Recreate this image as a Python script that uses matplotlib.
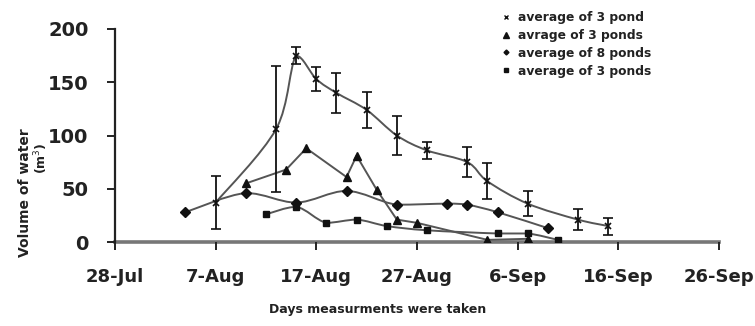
import datetime as dt
import numpy as np
import matplotlib
matplotlib.use("Agg")
import matplotlib.pyplot as plt
import matplotlib.dates as mdates
from matplotlib.path import Path
from matplotlib.patches import PathPatch
from matplotlib.ticker import FuncFormatter
from matplotlib.lines import Line2D

YEAR = 2005

# --- data -----------------------------------------------------------------
pond3_dates = ["08-07", "08-13", "08-15", "08-17", "08-19", "08-22", "08-25",
               "08-28", "09-01", "09-03", "09-07", "09-12", "09-15"]
pond3_vol = [37, 106, 175, 153, 140, 124, 100, 86, 75, 57, 36, 21, 15]
pond3_err = [25, 59, 8, 11, 19, 17, 18, 8, 14, 17, 12, 10, 8]

tri_dates = ["08-10", "08-14", "08-16", "08-20", "08-21", "08-23", "08-25",
             "08-27", "09-03", "09-07"]
tri_vol = [55, 68, 88, 61, 81, 49, 21, 18, 2, 3]

dia_dates = ["08-04", "08-10", "08-15", "08-20", "08-25", "08-30", "09-01",
             "09-04", "09-09"]
dia_vol = [28, 46, 37, 48, 35, 36, 35, 28, 13]

sq_dates = ["08-12", "08-15", "08-18", "08-21", "08-24", "08-28", "09-04",
            "09-07", "09-10"]
sq_vol = [26, 33, 18, 21, 15, 11, 8, 8, 2]

legend_labels = ["average of 3 pond", "avrage of 3 ponds",
                 "average of 8 ponds", "average of 3 ponds"]
tick_dates = ["07-28", "08-07", "08-17", "08-27", "09-06", "09-16", "09-26"]


def to_num(md):
    return np.array([mdates.date2num(dt.datetime(YEAR, int(s[:2]), int(s[3:])))
                     for s in md])


def smooth_path(xs, ys):
    """Cubic Bezier path through the points, with control points kept
    inside each segment's vertical range to avoid overshoot."""
    pts = np.column_stack([xs, ys]).astype(float)
    n = len(pts)
    verts = [pts[0]]
    codes = [Path.MOVETO]
    for i in range(n - 1):
        p0 = pts[i - 1] if i > 0 else pts[i]
        p1, p2 = pts[i], pts[i + 1]
        p3 = pts[i + 2] if i + 2 < n else pts[i + 1]
        c1 = p1 + (p2 - p0) / 6.0
        c2 = p2 - (p3 - p1) / 6.0
        lo, hi = min(p1[1], p2[1]), max(p1[1], p2[1])
        c1[1] = np.clip(c1[1], lo, hi)
        c2[1] = np.clip(c2[1], lo, hi)
        verts += [c1, c2, p2]
        codes += [Path.CURVE4] * 3
    return Path(verts, codes)


FONT = "DejaVu Sans"
TEXT_C = "#222222"
LINE_C = "#555555"
MARK_C = "#111111"

fig = plt.figure(figsize=(7.55, 3.26), dpi=100)
ax = fig.add_axes([115 / 755, 1 - 242 / 326, (719 - 115) / 755, (242 - 29) / 326])

x1 = to_num(pond3_dates)
x2 = to_num(tri_dates)
x3 = to_num(dia_dates)
x4 = to_num(sq_dates)

# smoothed connecting lines
for xs, ys in [(x1, pond3_vol), (x3, dia_vol), (x4, sq_vol)]:
    ax.add_patch(PathPatch(smooth_path(xs, ys), facecolor="none",
                           edgecolor=LINE_C, lw=1.4, zorder=2))
ax.plot(x2, tri_vol, color=LINE_C, lw=1.4, zorder=2)

# markers
ax.errorbar(x1, pond3_vol, yerr=pond3_err, fmt="x", color=MARK_C, ms=5,
            mew=1.2, ecolor=MARK_C, elinewidth=1.3, capsize=3.8, capthick=1.3,
            zorder=3)
ax.plot(x2, tri_vol, "^", color=MARK_C, ms=5.5, zorder=3)
ax.plot(x3, dia_vol, "D", color=MARK_C, ms=5, zorder=3)
ax.plot(x4, sq_vol, "s", color=MARK_C, ms=5, zorder=3)

# axes
ticks = to_num(tick_dates)
ax.set_xlim(ticks[0], ticks[-1])
ax.set_ylim(0, 200)
ax.set_xticks(ticks)
ax.set_yticks([0, 50, 100, 150, 200])
ax.xaxis.set_major_formatter(FuncFormatter(
    lambda v, p: f"{mdates.num2date(v).day}-{mdates.num2date(v).strftime('%b')}"))

for s in ["top", "right"]:
    ax.spines[s].set_visible(False)
ax.spines["left"].set_color(TEXT_C)
ax.spines["left"].set_linewidth(1.6)
ax.spines["bottom"].set_color("#777777")
ax.spines["bottom"].set_linewidth(2.6)
ax.spines["bottom"].set_zorder(1)

ax.tick_params(axis="y", direction="out", length=6, width=1.4, color=TEXT_C,
               pad=13, labelsize=14, labelcolor=TEXT_C)
ax.tick_params(axis="x", direction="out", length=6, width=1.4, color=TEXT_C,
               pad=13, labelsize=13, labelcolor=TEXT_C)
for lab in ax.get_xticklabels() + ax.get_yticklabels():
    lab.set_fontfamily(FONT)
    lab.set_fontweight("bold")

# axis titles
fig.text(378 / 755, 1 - 310 / 326, "Days measurments were taken",
         ha="center", va="center", fontsize=9, fontweight="bold",
         family=FONT, color=TEXT_C)
fig.text(25 / 755, 1 - 193 / 326, "Volume of water", rotation=90,
         ha="center", va="center", fontsize=10, fontweight="bold",
         family=FONT, color=TEXT_C)
fig.text(41 / 755, 1 - 158 / 326, "(m$^3$)", rotation=90,
         ha="center", va="center", fontsize=9, fontweight="bold",
         family=FONT, color=TEXT_C)

# legend
handles = [
    Line2D([], [], ls="none", marker="x", color=MARK_C, ms=3, mew=1),
    Line2D([], [], ls="none", marker="^", color=MARK_C, ms=4),
    Line2D([], [], ls="none", marker="D", color=MARK_C, ms=2.5),
    Line2D([], [], ls="none", marker="s", color=MARK_C, ms=2.5),
]
fig.legend(handles, legend_labels, loc="upper left",
           bbox_to_anchor=(496 / 755, 1 - 6 / 326), frameon=False,
           handlelength=0.8, handletextpad=0.6, labelspacing=0.4,
           borderaxespad=0, prop={"family": FONT, "weight": "bold", "size": 8.8},
           labelcolor=TEXT_C)

fig.savefig("out.png", dpi=100)
